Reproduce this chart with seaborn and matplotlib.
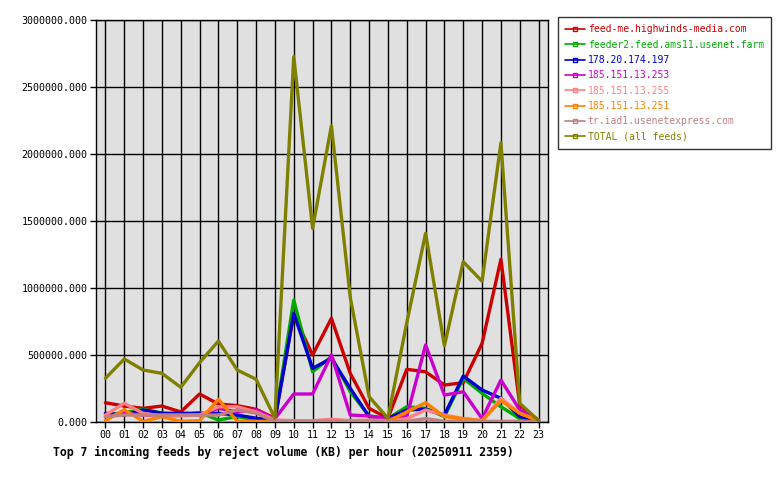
import matplotlib
matplotlib.use("Agg")
import matplotlib.pyplot as plt
import seaborn as sns
import pandas as pd
import numpy as np
from matplotlib.lines import Line2D

hours = ["00","01","02","03","04","05","06","07","08","09","10","11",
         "12","13","14","15","16","17","18","19","20","21","22","23"]

feeds = ["feed-me.highwinds-media.com", "feeder2.feed.ams11.usenet.farm",
         "178.20.174.197", "185.151.13.253", "185.151.13.255",
         "185.151.13.251", "tr.iad1.usenetexpress.com", "TOTAL (all feeds)"]

colors = ["#cc0000", "#00aa00", "#0000cc", "#cc00cc", "#ff8080",
          "#ff8000", "#c08080", "#808000"]

feed_me = [144000, 119000, 102000, 119000, 75000, 209000, 134000, 122000, 95000, 28000,
           800000, 500000, 774000, 363000, 102000, 28000, 393000, 375000, 276000, 293000,
           587000, 1214000, 127000, 10000]
feeder2 = [52000, 70000, 95000, 67000, 52000, 70000, 15000, 40000, 15000, 15000,
           910000, 375000, 487000, 226000, 45000, 25000, 114000, 102000, 40000, 326000,
           214000, 114000, 25000, 15000]
ip_178 = [65000, 52000, 90000, 65000, 65000, 65000, 65000, 52000, 28000, 15000,
          811000, 400000, 475000, 251000, 40000, 25000, 90000, 95000, 52000, 343000,
          239000, 177000, 40000, 15000]
ip_253 = [40000, 65000, 52000, 52000, 52000, 52000, 102000, 75000, 90000, 25000,
          209000, 209000, 500000, 52000, 45000, 25000, 40000, 575000, 201000, 226000,
          25000, 313000, 90000, 15000]
ip_255 = [52000, 140000, 65000, 45000, 45000, 52000, 114000, 114000, 75000, 15000,
          10000, 10000, 20000, 10000, 15000, 10000, 25000, 90000, 52000, 25000,
          10000, 177000, 65000, 10000]
ip_251 = [10000, 92000, 5000, 40000, 5000, 10000, 169000, 5000, 5000, 5000,
          5000, 5000, 5000, 5000, 5000, 5000, 75000, 144000, 40000, 25000,
          10000, 159000, 65000, 10000]
tr_iad1 = [40000, 52000, 52000, 52000, 52000, 52000, 52000, 90000, 65000, 5000,
           5000, 5000, 5000, 5000, 5000, 5000, 5000, 25000, 5000, 5000,
           5000, 5000, 5000, 5000]
total = [326000, 470000, 388000, 363000, 259000, 443000, 604000, 388000, 319000, 28000,
         2726000, 1445000, 2211000, 930000, 189000, 28000, 740000, 1408000, 569000, 1196000,
         1050000, 2084000, 140000, 10000]

series = [feed_me, feeder2, ip_178, ip_253, ip_255, ip_251, tr_iad1, total]

rows = []
for name, vals in zip(feeds, series):
    for i, v in enumerate(vals):
        rows.append({"hour": i, "feed": name, "value": v})
df = pd.DataFrame(rows)

sns.set_theme(style="white")
plt.rcParams['font.family'] = ['DejaVu Sans Mono', 'DejaVu Sans']

fig = plt.figure(figsize=(7.8, 4.8), dpi=100)
ax = fig.add_axes([96/780, 1-422/480, (548-96)/780, (422-20)/480])
ax.set_facecolor("#e0e0e0")

sns.lineplot(data=df, x="hour", y="value", hue="feed", hue_order=feeds,
             palette=colors, linewidth=2.4, ax=ax, legend=False, zorder=3)

ax.set_xlim(-0.5, 23.5)
ax.set_ylim(0, 3000000)
ax.set_xticks(range(24))
ax.set_xticklabels(hours)
yt = np.arange(0, 3000001, 500000)
ax.set_yticks(yt)
ax.set_yticklabels([f"{v:.3f}" for v in yt])
ax.grid(True, color="black", linewidth=1.0, linestyle="-", zorder=1)
ax.set_axisbelow(True)
for s in ax.spines.values():
    s.set_color("black")
    s.set_linewidth(1.0)
ax.tick_params(axis="both", which="both", direction="out", length=4, width=1,
               colors="black", labelsize=7.2, pad=2, left=True, bottom=True)
ax.set_xlabel("")
ax.set_ylabel("")

handles = [Line2D([0], [0], color=c, linewidth=1.2, marker="s", markersize=2.5,
                  markerfacecolor="none", markeredgecolor=c) for c in colors]
leg = fig.legend(handles, feeds, loc="upper left",
                 bbox_to_anchor=(558/780, 1-17/480), frameon=True,
                 fancybox=False, edgecolor="black", fontsize=7,
                 handlelength=2.0, handletextpad=0.3, labelspacing=0.55,
                 borderpad=0.75, borderaxespad=0)
leg.get_frame().set_linewidth(1.0)
for t, c in zip(leg.get_texts(), colors):
    t.set_color(c)

fig.text(283/780, 1-452/480, "Top 7 incoming feeds by reject volume (KB) per hour (20250911 2359)",
         ha="center", va="center", fontsize=8.3, fontweight="bold", color="black")

fig.savefig("out.png", dpi=100, facecolor="white")
